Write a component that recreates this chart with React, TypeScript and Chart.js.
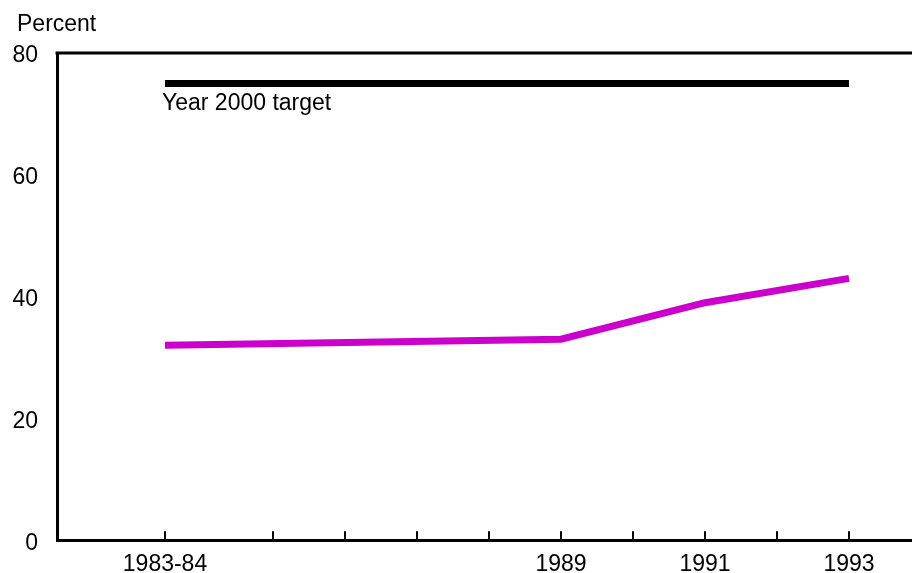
import React, { useEffect, useRef } from "react";
import { Chart, registerables } from "chart.js";

Chart.register(...registerables);

const years = [1983.5, 1989, 1991, 1993];
const percent = [32, 33, 39, 43];
const targetYears = [1983.5, 1993];
const targetValues = [75, 75];
const xTickValues = [1983.5, 1985, 1986, 1987, 1988, 1989, 1990, 1991, 1992, 1993];
const labeledYears = [1983.5, 1989, 1991, 1993];
const labeledText = ["1983-84", "1989", "1991", "1993"];
const yAxisTitle = "Percent";
const targetLabel = "Year 2000 target";

const FONT = "'Liberation Sans', Arial, Helvetica, sans-serif";

export default function App() {
  const ref = useRef<HTMLCanvasElement | null>(null);

  useEffect(() => {
    if (!ref.current) return;
    const framePlugin = {
      id: "frame",
      afterDraw(chart: any) {
        const { ctx, chartArea, scales } = chart;
        const xs = scales.x;
        const ys = scales.y;
        ctx.save();
        ctx.strokeStyle = "#000";
        ctx.lineWidth = 3;
        ctx.beginPath();
        ctx.moveTo(chartArea.left - 1.5, chartArea.top);
        ctx.lineTo(chartArea.right + 2, chartArea.top);
        ctx.stroke();
        ctx.lineWidth = 2;
        xTickValues.forEach((v) => {
          const px = Math.round(xs.getPixelForValue(v));
          ctx.beginPath();
          ctx.moveTo(px, chartArea.bottom);
          ctx.lineTo(px, chartArea.bottom - 9);
          ctx.stroke();
        });
        ctx.fillStyle = "#000";
        ctx.font = `23px ${FONT}`;
        ctx.textAlign = "left";
        ctx.textBaseline = "alphabetic";
        ctx.fillText(yAxisTitle, 17, 31);
        ctx.fillText(
          targetLabel,
          xs.getPixelForValue(targetYears[0]) - 3,
          ys.getPixelForValue(targetValues[0]) + 27
        );
        ctx.restore();
      },
    };

    const chart = new Chart(ref.current, {
      type: "line",
      data: {
        datasets: [
          {
            label: "Target",
            data: targetYears.map((x, i) => ({ x, y: targetValues[i] })),
            borderColor: "#000",
            borderWidth: 7,
            pointRadius: 0,
            borderCapStyle: "butt",
          },
          {
            label: "Percent",
            data: years.map((x, i) => ({ x, y: percent[i] })),
            borderColor: "#CC00CC",
            borderWidth: 7,
            pointRadius: 0,
            borderCapStyle: "butt",
            borderJoinStyle: "miter",
          },
        ],
      },
      options: {
        animation: false,
        responsive: true,
        maintainAspectRatio: false,
        layout: { padding: { top: 53, right: 0, left: 0, bottom: 0 } },
        plugins: { legend: { display: false }, tooltip: { enabled: false } },
        scales: {
          x: {
            type: "linear",
            min: 1982,
            max: 1993.875,
            afterBuildTicks: (scale: any) => {
              scale.ticks = xTickValues.map((v) => ({ value: v }));
            },
            afterFit: (scale: any) => {
              scale.height = 32;
            },
            grid: { display: false, drawTicks: false },
            border: { display: true, color: "#000", width: 3 },
            ticks: {
              autoSkip: false,
              maxRotation: 0,
              padding: 11,
              color: "#000",
              font: { size: 23, family: FONT },
              callback: (value: any) => {
                const i = labeledYears.indexOf(Number(value));
                return i >= 0 ? labeledText[i] : "";
              },
            },
          },
          y: {
            min: 0,
            max: 80,
            afterFit: (scale: any) => {
              scale.width = 57;
            },
            grid: { display: false, drawTicks: false },
            border: { display: true, color: "#000", width: 3 },
            ticks: {
              stepSize: 20,
              padding: 19,
              labelOffset: 3,
              color: "#000",
              font: { size: 23, family: FONT },
            },
          },
        },
      },
      plugins: [framePlugin],
    } as any);
    return () => chart.destroy();
  }, []);

  return (
    <div
      style={{
        position: "fixed",
        left: 0,
        top: 0,
        width: 912,
        height: 573,
        background: "#fff",
      }}
    >
      <canvas ref={ref} />
    </div>
  );
}
